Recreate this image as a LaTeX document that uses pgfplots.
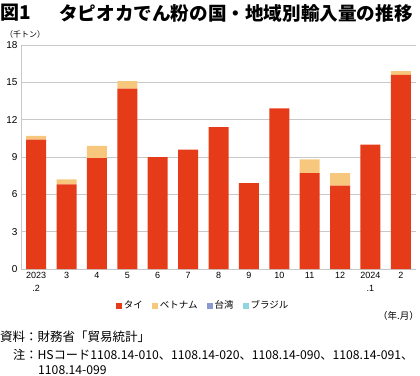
\documentclass[border=0pt]{standalone}
\usepackage{pgfplots}
\pgfplotsset{compat=1.18}
\usepackage{fontspec}
\setmainfont{Liberation Sans}
\setsansfont{Liberation Sans}
\newfontfamily\cjk{Noto Sans CJK JP}
\definecolor{thai}{HTML}{E63B19}
\definecolor{viet}{HTML}{F8C77E}
\definecolor{taiwan}{HTML}{8A9AD0}
\definecolor{brazil}{HTML}{8FD6E0}
\definecolor{gridgray}{HTML}{C8C8C8}
\begin{document}
\begin{tikzpicture}[x=1pt,y=1pt]
\path[use as bounding box] (0,0) rectangle (420,-375);
\begin{axis}[
  at={(21pt,-269pt)}, anchor=south west,
  scale only axis, width=395pt, height=224pt,
  xmin=-0.5, xmax=12.5, ymin=0, ymax=18,
  ybar stacked, bar width=20pt,
  xtick={0,...,12},
  xticklabels={{2023\\.2},3,4,5,6,7,8,9,10,11,12,{2024\\.1},2},
  xticklabel style={align=center, font=\fontsize{9}{12.5}\selectfont},
  ytick={0,3,...,18},
  yticklabel style={font=\fontsize{10}{11}\selectfont},
  /pgf/number format/assume math mode=true,
  major tick length=0pt,
  axis x line*=bottom, axis y line*=left,
  x axis line style={draw=none},
  y axis line style={draw=gridgray, line width=0.8pt},
  ymajorgrids, grid style={draw=gridgray, line width=0.8pt},
  legend style={at={(0.461,-0.163)}, anchor=center, draw=none, fill=none,
    legend columns=-1, font=\cjk\fontsize{9.5}{11}\selectfont,
    /tikz/every even column/.append style={column sep=7pt},
    inner sep=0pt},
  legend image code/.code={\fill[#1] (0pt,-3pt) rectangle (6pt,3pt);},
]
\addplot[fill=thai, draw=none] coordinates {(0,10.4) (1,6.8) (2,8.9) (3,14.5) (4,9.0) (5,9.6) (6,11.4) (7,6.9) (8,12.9) (9,7.7) (10,6.7) (11,10.0) (12,15.6)};
\addplot[fill=viet, draw=none] coordinates {(0,0.3) (1,0.4) (2,1.0) (3,0.6) (4,0) (5,0) (6,0) (7,0) (8,0) (9,1.1) (10,1.0) (11,0) (12,0.3)};
\addplot[fill=taiwan, draw=none] coordinates {(0,0) (1,0) (2,0) (3,0) (4,0) (5,0) (6,0) (7,0) (8,0) (9,0) (10,0) (11,0) (12,0)};
\addplot[fill=brazil, draw=none] coordinates {(0,0) (1,0) (2,0) (3,0) (4,0) (5,0) (6,0) (7,0) (8,0) (9,0) (10,0) (11,0) (12,0)};
\legend{タイ,ベトナム,台湾,ブラジル}
\end{axis}
\node[anchor=west, inner sep=0pt, font=\cjk\bfseries\fontsize{19}{20}\selectfont] at (0,-13) {図1};
\node[anchor=west, inner sep=0pt, font=\cjk\bfseries\fontsize{18.6}{20}\selectfont] at (59,-13) {タピオカでん粉の国・地域別輸入量の推移};
\node[anchor=west, inner sep=0pt, font=\cjk\fontsize{8}{9}\selectfont] at (5,-34) {（千トン）};
\node[anchor=east, inner sep=0pt, font=\cjk\fontsize{9.5}{11}\selectfont] at (419,-316) {（年.月）};
\node[anchor=west, inner sep=0pt, font=\cjk\fontsize{12.5}{14}\selectfont] at (0,-337) {資料：財務省「貿易統計」};
\node[anchor=west, inner sep=0pt, font=\cjk\fontsize{12.2}{14}\selectfont] at (13,-355) {注：HSコード1108.14-010、1108.14-020、1108.14-090、1108.14-091、};
\node[anchor=west, inner sep=0pt, font=\cjk\fontsize{12.2}{14}\selectfont] at (38,-370) {1108.14-099};
\end{tikzpicture}
\end{document}
